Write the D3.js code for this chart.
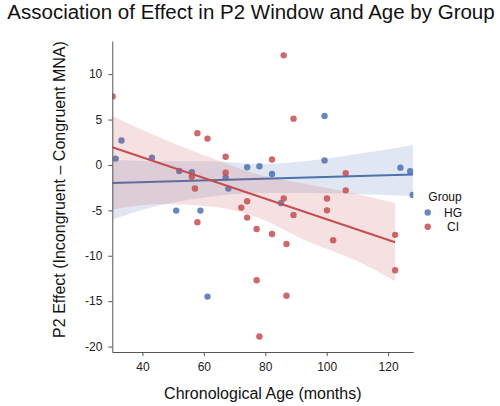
<!DOCTYPE html>
<html>
<head>
<meta charset="utf-8">
<script src="https://cdn.jsdelivr.net/npm/d3@7"></script>
<style>
  html, body { margin: 0; padding: 0; background: #fff; }
  svg { display: block; font-family: "Liberation Sans", Arial, Helvetica, sans-serif; }
</style>
</head>
<body>
<svg id="chart" width="500" height="406"></svg>
<script>
// ---- Data ----
const groups = ["HG", "CI"];
const groupColors = ["#4c72b0", "#c44e52"];

const hgAge = [33.2, 31.3, 43.1, 99.3, 99.3, 74.1, 78.1, 52.0, 56.1, 67.1, 82.2, 68.0, 124.0, 127.2, 128.0, 51.0, 58.9, 85.1, 61.2];
const hgEffect = [2.7, 0.7, 0.8, 5.4, 0.5, -0.26, -0.15, -0.67, -0.8, -1.4, -1.0, -2.6, -0.3, -0.7, -3.3, -5.03, -5.03, -4.2, -14.5];

const ciAge = [30.3, 86.0, 89.2, 57.9, 61.2, 67.1, 82.2, 56.1, 67.1, 57.1, 74.1, 86.0, 100.1, 106.2, 106.2, 57.9, 72.2, 74.1, 77.2, 82.2, 86.9, 89.2, 100.1, 77.2, 86.9, 78.1, 102.1, 122.3, 122.3];
const ciEffect = [7.55, 12.07, 5.1, 3.5, 2.9, 0.9, 0.6, -1.3, -0.85, -2.6, -4.0, -3.7, -3.7, -0.9, -2.8, -6.3, -4.7, -5.8, -7.05, -7.6, -8.7, -5.5, -5.0, -12.7, -14.4, -18.9, -8.3, -7.7, -11.6];

// confidence band edges
const hgBandAge = [30.2, 45, 62, 78, 95, 110, 128.2];
const hgBandHigh = [0.6, 0.4, 0.4, 0.1, 0.5, 1.2, 2.2];
const hgBandLow = [-6.0, -4.5, -3.5, -3.1, -3.1, -3.2, -3.45];

const ciBandAge = [30.2, 46, 63, 76, 95, 110, 122.3];
const ciBandHigh = [5.35, 2.97, 0.7, -0.9, -2.2, -3.2, -4.2];
const ciBandLow = [-4.9, -4.3, -4.6, -5.6, -8.6, -10.6, -12.8];

const xTicks = [40, 60, 80, 100, 120];
const yTicks = [10, 5, 0, -5, -10, -15, -20];

const title = "Association of Effect in P2 Window and Age by Group";
const xTitle = "Chronological Age (months)";
const yTitle = "P2 Effect (Incongruent \u2013 Congruent MNA)";
const legendTitle = "Group";

// ---- Layout ----
const svg = d3.select("#chart");
const plotLeft = 112.3, plotRight = 413.3, plotTop = 41, plotBottom = 352;

const x = d3.scaleLinear().domain([30.2, 128.2]).range([plotLeft, plotRight]);
const y = d3.scaleLinear().domain([-20.6, 13.65]).range([plotBottom, plotTop]);

svg.append("defs").append("clipPath").attr("id", "plotclip")
  .append("rect").attr("x", plotLeft).attr("y", plotTop)
  .attr("width", plotRight - plotLeft).attr("height", plotBottom - plotTop);

const plot = svg.append("g").attr("clip-path", "url(#plotclip)");

function ols(xs, ys) {
  const mx = d3.mean(xs), my = d3.mean(ys);
  let sxy = 0, sxx = 0;
  xs.forEach((v, i) => { sxy += (v - mx) * (ys[i] - my); sxx += (v - mx) * (v - mx); });
  const b = sxy / sxx;
  return { slope: b, intercept: my - b * mx };
}

const series = [
  { name: "HG", color: groupColors[0], xs: hgAge, ys: hgEffect, bx: hgBandAge, bh: hgBandHigh, bl: hgBandLow },
  { name: "CI", color: groupColors[1], xs: ciAge, ys: ciEffect, bx: ciBandAge, bh: ciBandHigh, bl: ciBandLow }
];

series.forEach(s => {
  // scatter
  plot.append("g").selectAll("circle")
    .data(s.xs.map((v, i) => [v, s.ys[i]]))
    .join("circle")
    .attr("cx", d => x(d[0]))
    .attr("cy", d => y(d[1]))
    .attr("r", 3.2)
    .attr("fill", s.color)
    .attr("fill-opacity", 0.85);

  // confidence band
  const band = s.bx.map((v, i) => ({ x: v, lo: s.bl[i], hi: s.bh[i] }));
  plot.append("path")
    .datum(band)
    .attr("d", d3.area().curve(d3.curveMonotoneX)
      .x(d => x(d.x)).y0(d => y(d.lo)).y1(d => y(d.hi)))
    .attr("fill", s.color)
    .attr("fill-opacity", 0.17)
    .attr("stroke", "none");

  // regression line
  const fit = ols(s.xs, s.ys);
  const ext = d3.extent(s.bx);
  plot.append("path")
    .datum(ext)
    .attr("d", d3.line().x(d => x(d)).y(d => y(fit.intercept + fit.slope * d)))
    .attr("stroke", s.color)
    .attr("stroke-width", 2)
    .attr("fill", "none");
});

// ---- Axes ----
const xAxis = svg.append("g").attr("transform", `translate(0,${plotBottom})`)
  .call(d3.axisBottom(x).tickValues(xTicks).tickSize(4).tickPadding(6).tickSizeOuter(0));
const yAxis = svg.append("g").attr("transform", `translate(${plotLeft},0)`)
  .call(d3.axisLeft(y).tickValues(yTicks).tickSize(4).tickPadding(6).tickSizeOuter(0)
    .tickFormat(d => d3.format("d")(d).replace("\u2212", "-")));

[xAxis, yAxis].forEach(a => {
  a.select(".domain").attr("stroke", "#555").attr("stroke-width", 1);
  a.selectAll(".tick line").attr("stroke", "#555");
  a.selectAll("text").attr("font-size", 12).attr("fill", "#222")
    .attr("font-family", "\"Liberation Sans\", Arial, sans-serif");
});

// ---- Titles ----
svg.append("text").attr("x", 251).attr("y", 19).attr("text-anchor", "middle")
  .attr("font-size", 20.5).attr("fill", "#111").text(title);

svg.append("text").attr("x", (plotLeft + plotRight) / 2).attr("y", 399).attr("text-anchor", "middle")
  .attr("font-size", 16).attr("fill", "#111").text(xTitle);

svg.append("text")
  .attr("transform", `translate(65,${(plotTop + plotBottom) / 2 - 7}) rotate(-90)`)
  .attr("text-anchor", "middle")
  .attr("font-size", 16).attr("fill", "#111").text(yTitle);

// ---- Legend ----
const lg = svg.append("g");
lg.append("text").attr("x", 445).attr("y", 201).attr("text-anchor", "middle")
  .attr("font-size", 12).attr("fill", "#111").text(legendTitle);
groups.forEach((g, i) => {
  const cy = 212.5 + i * 14.3;
  lg.append("circle").attr("cx", 427.7).attr("cy", cy).attr("r", 3.2)
    .attr("fill", groupColors[i]).attr("fill-opacity", 0.85);
  lg.append("text").attr("x", 453).attr("y", cy + 4.3).attr("text-anchor", "middle")
    .attr("font-size", 12).attr("fill", "#111").text(g);
});
</script>
</body>
</html>
